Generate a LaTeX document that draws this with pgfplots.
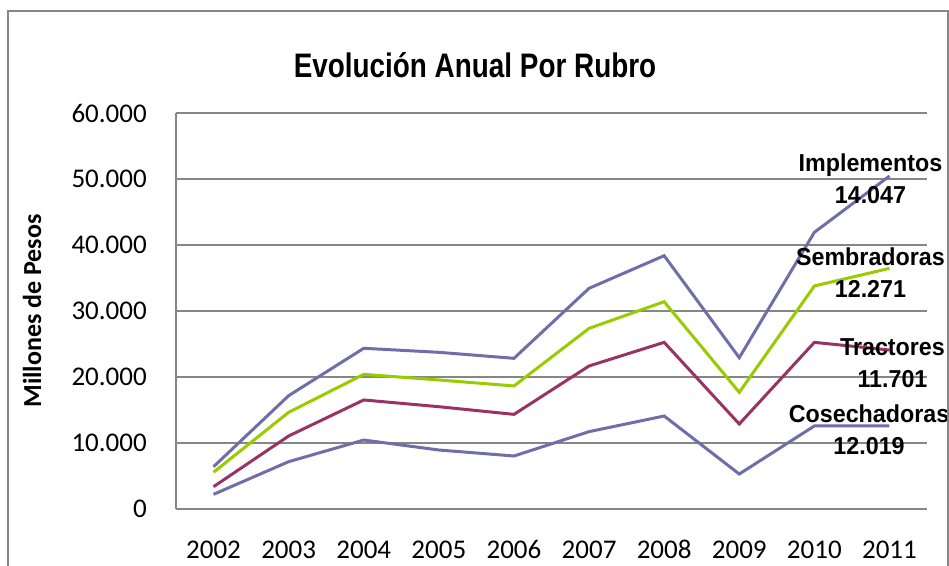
\documentclass[border=0pt]{standalone}
\usepackage{fontspec}
\setmainfont{Carlito}
\newfontfamily\labfont[FakeStretch=0.95]{Liberation Sans}
\newfontfamily\titfont[FakeStretch=0.82]{Liberation Sans}
\usepackage{pgfplots}
\pgfplotsset{compat=1.18}
\usetikzlibrary{calc}
\definecolor{cimp}{HTML}{6E6EA8}
\definecolor{csem}{HTML}{99CC00}
\definecolor{ctra}{HTML}{993366}
\definecolor{cgrid}{HTML}{868686}
\tikzset{label nd/.style={align=center, text=black, font=\labfont\bfseries\fontsize{24.5}{32}\selectfont, inner sep=0pt, anchor=center}}
\begin{document}
\begin{tikzpicture}[x=1pt,y=1pt]
\begin{axis}[
  scale only axis, width=751pt, height=396pt,
  xmin=-0.5, xmax=9.5, ymin=0, ymax=60000,
  xtick={0,...,9},
  xticklabels={2002,2003,2004,2005,2006,2007,2008,2009,2010,2011},
  ytick={0,10000,...,60000},
  /pgf/number format/.cd, 1000 sep={.}, fixed, assume math mode=true,
  /pgfplots/.cd,
  scaled y ticks=false,
  axis x line*=bottom, axis y line*=left,
  axis line style={cgrid, line width=1.5pt, -},
  major tick length=0pt,
  ymajorgrids, grid style={cgrid, line width=1.3pt},
  tick label style={font=\fontsize{27}{30}\selectfont, text=black},
  yticklabel style={anchor=east, inner sep=0pt, xshift=-29pt},
  xticklabel style={anchor=base, inner sep=0pt, yshift=-49pt},
  clip=false,
  every axis plot/.append style={line width=3pt, mark=none},
]
\coordinate (SW) at (rel axis cs:0,0);
\addplot[cimp] coordinates {(0,6410) (1,17170) (2,24350) (3,23740) (4,22830) (5,33440) (6,38380) (7,22930) (8,41920) (9,50450)}
  node[pos=1, label nd, xshift=-19pt, yshift=-2.5pt] {Implementos\\14.047};
\addplot[csem] coordinates {(0,5560) (1,14650) (2,20400) (3,19550) (4,18640) (5,27370) (6,31410) (7,17680) (8,33790) (9,36460)}
  node[pos=1, label nd, xshift=-19pt, yshift=-4pt] {Sembradoras\\12.271};
\addplot[ctra] coordinates {(0,3380) (1,11060) (2,16520) (3,15500) (4,14340) (5,21670) (6,25250) (7,12880) (8,25250) (9,24090)}
  node[pos=1, label nd, xshift=3pt, yshift=-13pt] {Tractores\\11.701};
\addplot[cimp] coordinates {(0,2220) (1,7170) (2,10450) (3,8940) (4,8030) (5,11720) (6,14090) (7,5300) (8,12580) (9,12580)}
  node[pos=1, label nd, xshift=-20pt, yshift=-4pt] {Cosechadoras\\12.019};
\end{axis}
\coordinate (O) at ($(SW)+(-176,-56)$);
\pgfresetboundingbox
\path[use as bounding box] (O) rectangle ++(949,565);
\draw[cgrid, line width=2pt] ($(O)+(8,-20)$) -- ++(0,574) -- ++(939.7,0) -- ++(0,-574);
\node[font=\titfont\bfseries\fontsize{34}{40}\selectfont, anchor=center] at ($(O)+(475,500)$) {Evolución Anual Por Rubro};
\node[font=\bfseries\fontsize{26}{30}\selectfont, rotate=90, anchor=center] at ($(O)+(32,254)$) {Millones de Pesos};
\end{tikzpicture}
\end{document}
